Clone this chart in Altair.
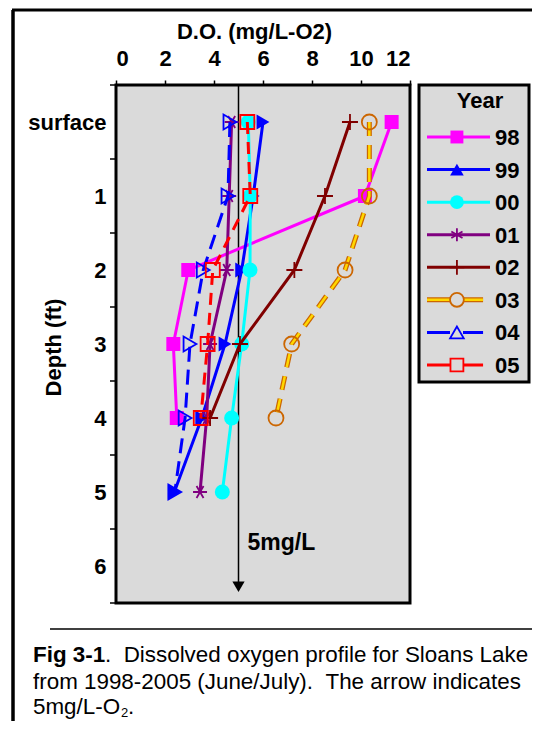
import altair as alt
import pandas as pd

# ---------------- data ----------------
years = ["98", "99", "00", "01", "02", "03", "04", "05"]
depth_values = [0, 1, 2, 3, 4, 5]
depth_tick_labels = ["surface", "1", "2", "3", "4", "5", "6"]
x_tick_values = [0, 2, 4, 6, 8, 10, 12]

do_98 = [11.25, 10.16, 2.95, 2.34, 2.48]
do_99 = [6.00, 5.60, 5.13, 4.45, 3.50, 2.38]
do_00 = [5.40, 5.48, 5.47, 5.13, 4.72, 4.34]
do_01 = [4.72, 4.62, 4.52, 3.84, 3.70, 3.43]
do_02 = [9.55, 8.53, 7.28, 5.06, 3.84]
do_03 = [10.34, 10.34, 9.35, 7.17, 6.53]
do_04 = [4.65, 4.57, 3.56, 3.02, 2.82, 2.40]
do_05 = [5.36, 5.48, 3.95, 3.74, 3.46]

series_values = [do_98, do_99, do_00, do_01, do_02, do_03, do_04, do_05]

arrow_do = 5.0
arrow_top = -0.5
arrow_bottom = 6.22
arrow_head = 6.28
arrow_label = "5mg/L"
arrow_label_depth = 5.79

half_ticks = [-0.5, 0.5, 1.5, 2.5, 3.5, 4.5, 5.5, 6.5]

caption_bold = "Fig 3-1"
caption_1 = ".\u00a0\u00a0Dissolved oxygen profile for Sloans Lake"
caption_2 = "from 1998-2005 (June/July).\u00a0\u00a0The arrow indicates"
caption_3 = "5mg/L-O"
caption_sub = "2"

# ---------------- styles ----------------
FONT = "Liberation Sans"
AST_H = "M-1,0L1,0M-0.5,-0.866L0.5,0.866M-0.5,0.866L0.5,-0.866"
AST_V = "M0,-1L0,1M-0.866,-0.5L0.866,0.5M-0.866,0.5L0.866,-0.5"
PLUS = "M-1,0L1,0M0,-1L0,1"

styles = {
    "98": dict(color="#FF00FF", dash=None, shape="square", lshape="square", filled=True, mstroke="#FF00FF", size=196),
    "99": dict(color="#0000FF", dash=None, shape="triangle-right", lshape="triangle-up", filled=True, mstroke="#0000FF", size=220),
    "00": dict(color="#00FFFF", dash=None, shape="circle", lshape="circle", filled=True, mstroke="#00FFFF", size=225),
    "01": dict(color="#800080", dash=None, shape=AST_H, lshape=AST_V, filled=False, mstroke="#800080", size=196),
    "02": dict(color="#800000", dash=None, shape=PLUS, lshape=PLUS, filled=False, mstroke="#800000", size=256),
    "03": dict(color="#FFD700", dash=[14, 9], shape="circle", lshape="circle", filled=False, mstroke="#CC6600", size=225),
    "04": dict(color="#0000FF", dash=[15, 8], shape="triangle-right", lshape="triangle-up", filled=False, mstroke="#0000FF", size=220),
    "05": dict(color="#FF0000", dash=[12, 8], shape="square", lshape="square", filled=False, mstroke="#FF0000", size=196),
}

rows = []
for yr, vals in zip(years, series_values):
    for d, v in zip(depth_values, vals):
        rows.append({"year": yr, "depth": d, "do": v})
df = pd.DataFrame(rows)

W, H = 294, 518

xscale = alt.Scale(domain=[0, 12], nice=False, zero=False)
yscale = alt.Scale(domain=[-0.5, 6.5], reverse=True, nice=False, zero=False)
xaxis = alt.Axis(orient="top", values=x_tick_values, title="D.O. (mg/L-O2)", grid=False, domain=False,
                 tickSize=5, tickWidth=1.5, tickColor="black", labelPadding=10,
                 labelFont=FONT, labelFontSize=22, labelFontWeight="bold", labelColor="black",
                 titleFont=FONT, titleFontSize=22, titleFontWeight="bold", titleColor="black",
                 titlePadding=4, titleX=138)
yaxis = alt.Axis(values=list(range(7)), title="Depth (ft)", grid=False, domain=False, ticks=False,
                 labelExpr="datum.value == 0 ? 'surface' : datum.value",
                 labelPadding=10, labelFont=FONT, labelFontSize=22, labelFontWeight="bold", labelColor="black",
                 titleFont=FONT, titleFontSize=22, titleFontWeight="bold", titleColor="black",
                 titleX=-63, titleY=262, titleBaseline="middle", titleAngle=270)


def X(f):
    return alt.X(f + ":Q", scale=xscale, axis=xaxis)


def Y(f):
    return alt.Y(f + ":Q", scale=yscale, axis=yaxis)


one = alt.Data(values=[{"a": 1}])
main_layers = []

# half-integer ticks on depth axis
tick_df = pd.DataFrame({"t": half_ticks})
main_layers.append(alt.Chart(tick_df).mark_rule(color="black", strokeWidth=1.5).encode(
    y=Y("t"), x=alt.value(-6), x2=alt.value(0)))

# 5 mg/L arrow
arr_df = pd.DataFrame({"x": [arrow_do], "y1": [arrow_top], "y2": [arrow_bottom], "yh": [arrow_head]})
main_layers.append(alt.Chart(arr_df).mark_rule(color="black", strokeWidth=1.5).encode(
    x=X("x"), y=Y("y1"), y2="y2:Q"))
main_layers.append(alt.Chart(arr_df).mark_point(shape="triangle-down", filled=True, color="black",
                                                 size=150, opacity=1).encode(x=X("x"), y=Y("yh")))
lab_df = pd.DataFrame({"x": [arrow_do], "y": [arrow_label_depth], "t": [arrow_label]})
main_layers.append(alt.Chart(lab_df).mark_text(font=FONT, fontSize=23, fontWeight="bold", align="left",
                                               baseline="alphabetic", dx=9, color="black").encode(
    x=X("x"), y=Y("y"), text="t:N"))

# series
for yr in years:
    st = styles[yr]
    d = df[df.year == yr]
    base = alt.Chart(d)
    if yr == "03":
        main_layers.append(base.mark_line(color="#CC6600", strokeWidth=5, strokeDash=st["dash"]).encode(
            x=X("do"), y=Y("depth"), order="depth:Q"))
        main_layers.append(base.mark_line(color="#FFD700", strokeWidth=2.5, strokeDash=st["dash"]).encode(
            x=X("do"), y=Y("depth"), order="depth:Q"))
    else:
        kw = dict(color=st["color"], strokeWidth=3)
        if st["dash"]:
            kw["strokeDash"] = st["dash"]
        main_layers.append(base.mark_line(**kw).encode(x=X("do"), y=Y("depth"), order="depth:Q"))
    pkw = dict(shape=st["shape"], size=st["size"], opacity=1)
    if st["filled"]:
        pkw.update(filled=True, color=st["color"])
    else:
        pkw.update(filled=False, stroke=st["mstroke"], strokeWidth=1.8, fill="transparent")
    main_layers.append(base.mark_point(**pkw).encode(x=X("do"), y=Y("depth")))


# page decorations (frame + caption)
def rule(x1, x2, y1, y2, w):
    return alt.Chart(one).mark_rule(color="black", strokeWidth=w).encode(
        x=alt.value(x1), x2=alt.value(x2), y=alt.value(y1), y2=alt.value(y2))


main_layers.append(rule(-104, 424, -75, -75, 3))
main_layers.append(rule(-103, -103, -75, 640, 3.5))
main_layers.append(rule(-66, 424, 544, 544, 1.5))


def text(s, x, y, size=22.4, weight="normal", align="left"):
    return alt.Chart(one).mark_text(text=s, font=FONT, fontSize=size, fontWeight=weight, align=align,
                                    baseline="alphabetic", color="black").encode(
        x=alt.value(x), y=alt.value(y))


cx = -83
main_layers.append(text(caption_bold, cx, 577, weight="bold"))
main_layers.append(text(caption_1, cx + 72, 577))
main_layers.append(text(caption_2, cx, 604))
main_layers.append(text(caption_3, cx, 629))
main_layers.append(text(caption_sub, cx + 88, 632, size=13))
main_layers.append(text(".", cx + 95, 629))

main = alt.layer(*main_layers)

# ---------------- legend ----------------
lx = alt.Scale(domain=[0, 1], range=[311, 374])
ly = alt.Scale(domain=[0, 7], range=[52, 280])

legend_layers = [
    alt.Chart(one).mark_rect(fill="#DADADA", stroke="black", strokeWidth=3).encode(
        x=alt.value(303), x2=alt.value(413), y=alt.value(0), y2=alt.value(297)),
    text("Year", 364, 23, size=22, weight="bold", align="center"),
]
for i, yr in enumerate(years):
    st = styles[yr]
    seg = pd.DataFrame({"lx": [0, 1 if not st["dash"] else 0.89], "row": [i, i]})
    b = alt.Chart(seg)
    enc = dict(x=alt.X("lx:Q", scale=lx, axis=None), y=alt.Y("row:Q", scale=ly, axis=None))
    if yr == "03":
        legend_layers.append(b.mark_line(color="#CC6600", strokeWidth=5, strokeDash=[23, 13]).encode(**enc))
        legend_layers.append(b.mark_line(color="#FFD700", strokeWidth=2.5, strokeDash=[23, 13]).encode(**enc))
    else:
        kw = dict(color=st["color"], strokeWidth=3)
        if st["dash"]:
            kw["strokeDash"] = [23, 13]
        legend_layers.append(b.mark_line(**kw).encode(**enc))
    mk = pd.DataFrame({"lx": [0.475], "row": [i]})
    pkw = dict(shape=st["lshape"], size=st["size"] * 0.85, opacity=1)
    if st["filled"]:
        pkw.update(filled=True, color=st["color"])
    else:
        pkw.update(filled=False, stroke=st["mstroke"], strokeWidth=1.8, fill="#DADADA")
    legend_layers.append(alt.Chart(mk).mark_point(**pkw).encode(
        x=alt.X("lx:Q", scale=lx, axis=None), y=alt.Y("row:Q", scale=ly, axis=None)))

lab = pd.DataFrame({"row": list(range(len(years))), "year": years, "lx": [1.08] * len(years)})
legend_layers.append(alt.Chart(lab).mark_text(font=FONT, fontSize=22, fontWeight="bold", align="left",
                                              baseline="middle", color="black", dy=1).encode(
    x=alt.X("lx:Q", scale=lx, axis=None), y=alt.Y("row:Q", scale=ly, axis=None), text="year:N"))

legend = alt.layer(*legend_layers)

chart = alt.layer(main, legend).resolve_scale(x="independent", y="independent").properties(
    width=W, height=H,
    autosize=alt.AutoSizeParams(type="none"),
    padding={"left": 108, "top": 77, "right": 122, "bottom": 118},
    background="white",
).configure_view(fill="#DADADA", stroke="black", strokeWidth=3)

chart.save("out.html", embed_options={"renderer": "svg", "actions": False})
